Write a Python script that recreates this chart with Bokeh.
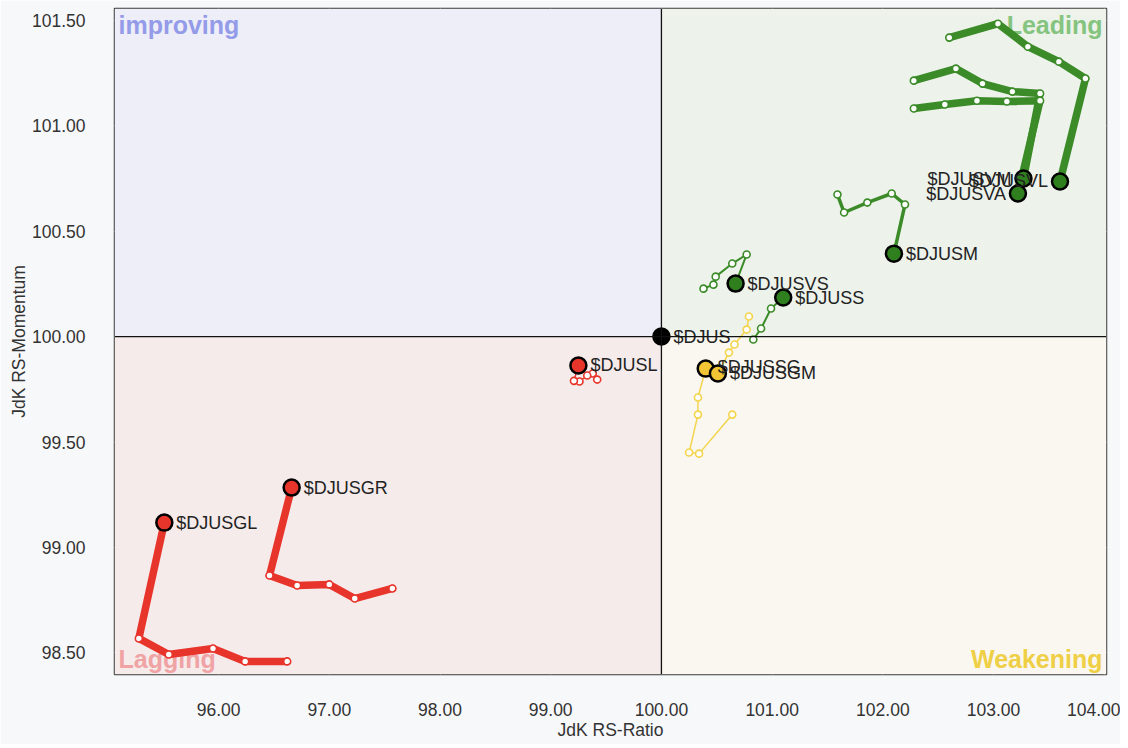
from bokeh.plotting import figure
from bokeh.models import BoxAnnotation, Span, FixedTicker, NumeralTickFormatter
from bokeh.core.properties import value
from bokeh.embed import file_html
from bokeh.resources import INLINE

# ---- data (JdK RS-Ratio, JdK RS-Momentum); tail oldest -> head last ----
DJUSVL_RATIO = [102.60, 103.04, 103.31, 103.59, 103.83, 103.60]
DJUSVL_MOM = [101.417, 101.483, 101.374, 101.303, 101.223, 100.735]
DJUSVM_RATIO = [102.28, 102.66, 102.90, 103.17, 103.42, 103.27]
DJUSVM_MOM = [101.213, 101.270, 101.199, 101.161, 101.152, 100.749]
DJUSVA_RATIO = [102.28, 102.56, 102.85, 103.12, 103.42, 103.22]
DJUSVA_MOM = [101.081, 101.100, 101.118, 101.114, 101.118, 100.678]
DJUSM_RATIO = [101.59, 101.65, 101.86, 102.08, 102.20, 102.10]
DJUSM_MOM = [100.673, 100.588, 100.635, 100.678, 100.626, 100.393]
DJUSVS_RATIO = [100.38, 100.47, 100.49, 100.64, 100.77, 100.67]
DJUSVS_MOM = [100.227, 100.246, 100.284, 100.346, 100.389, 100.251]
DJUSS_RATIO = [100.83, 100.90, 100.99, 101.10]
DJUSS_MOM = [99.986, 100.038, 100.133, 100.185]
DJUSSG_RATIO = [100.64, 100.34, 100.25, 100.33, 100.33, 100.40]
DJUSSG_MOM = [99.630, 99.445, 99.450, 99.630, 99.711, 99.848]
DJUSGM_RATIO = [100.79, 100.77, 100.66, 100.61, 100.51]
DJUSGM_MOM = [100.095, 100.033, 99.962, 99.924, 99.825]
DJUSL_RATIO = [99.42, 99.38, 99.33, 99.26, 99.21, 99.25]
DJUSL_MOM = [99.796, 99.825, 99.815, 99.787, 99.790, 99.863]
DJUSGR_RATIO = [97.57, 97.23, 97.00, 96.71, 96.46, 96.66]
DJUSGR_MOM = [98.806, 98.758, 98.825, 98.820, 98.867, 99.284]
DJUSGL_RATIO = [96.62, 96.24, 95.95, 95.55, 95.28, 95.51]
DJUSGL_MOM = [98.460, 98.460, 98.521, 98.493, 98.569, 99.118]
DJUS_RATIO = [100.00]
DJUS_MOM = [100.00]

X_TICKS = [96, 97, 98, 99, 100, 101, 102, 103, 104]
Y_TICKS = [98.5, 99.0, 99.5, 100.0, 100.5, 101.0, 101.5]
CENTER = 100.0
QUADRANTS = ["improving", "Leading", "Lagging", "Weakening"]

GREEN, GREEN_HEAD = "#3b8b28", "#2f7f1f"
RED, RED_HEAD = "#e8352b", "#e8352b"
YEL, YEL_HEAD = "#f4d44c", "#f1c534"

series = [
    ("$DJUSVL", DJUSVL_RATIO, DJUSVL_MOM, GREEN, GREEN_HEAD, 7.5, "left", 0),
    ("$DJUSVM", DJUSVM_RATIO, DJUSVM_MOM, GREEN, GREEN_HEAD, 7.5, "left", 0),
    ("$DJUSVA", DJUSVA_RATIO, DJUSVA_MOM, GREEN, GREEN_HEAD, 7.5, "left", 0),
    ("$DJUSM", DJUSM_RATIO, DJUSM_MOM, GREEN, GREEN_HEAD, 3.5, "right", 0),
    ("$DJUSVS", DJUSVS_RATIO, DJUSVS_MOM, GREEN, GREEN_HEAD, 2, "right", 0),
    ("$DJUSS", DJUSS_RATIO, DJUSS_MOM, GREEN, GREEN_HEAD, 2, "right", 0),
    ("$DJUSSG", DJUSSG_RATIO, DJUSSG_MOM, YEL, YEL_HEAD, 1.5, "right", -2),
    ("$DJUSGM", DJUSGM_RATIO, DJUSGM_MOM, YEL, YEL_HEAD, 1.5, "right", 0),
    ("$DJUSL", DJUSL_RATIO, DJUSL_MOM, RED, RED_HEAD, 1.5, "right", 0),
    ("$DJUSGR", DJUSGR_RATIO, DJUSGR_MOM, RED, RED_HEAD, 7.5, "right", 0),
    ("$DJUSGL", DJUSGL_RATIO, DJUSGL_MOM, RED, RED_HEAD, 7.5, "right", 0),
    ("$DJUS", DJUS_RATIO, DJUS_MOM, "#000000", "#000000", 1, "right", 0),
]

p = figure(width=1120, height=744, x_range=(95.06, 104.02), y_range=(98.398, 101.555),
           output_backend="svg", toolbar_location=None,
           min_border_left=114, min_border_right=14, min_border_top=8, min_border_bottom=70)
p.border_fill_color = "#f7f8fa"
p.background_fill_color = "#f7f8fa"
p.outline_line_color = "#3a3a3a"
p.outline_line_width = 1.5

# quadrant backgrounds
p.add_layout(BoxAnnotation(right=CENTER, bottom=CENTER, fill_color="#eeeef8", fill_alpha=1, line_alpha=0, level="underlay"))
p.add_layout(BoxAnnotation(left=CENTER, bottom=CENTER, fill_color="#edf2eb", fill_alpha=1, line_alpha=0, level="underlay"))
p.add_layout(BoxAnnotation(right=CENTER, top=CENTER, fill_color="#f6ebeb", fill_alpha=1, line_alpha=0, level="underlay"))
p.add_layout(BoxAnnotation(left=CENTER, top=CENTER, fill_color="#f9f7ef", fill_alpha=1, line_alpha=0, level="underlay"))

p.xgrid.grid_line_color = "#dedede"
p.ygrid.grid_line_color = "#dedede"
p.xgrid.level = "underlay"
p.ygrid.level = "underlay"

p.add_layout(Span(location=CENTER, dimension="height", line_color="#111111", line_width=1.3))
p.add_layout(Span(location=CENTER, dimension="width", line_color="#111111", line_width=1.3))

# axes
p.xaxis.ticker = FixedTicker(ticks=X_TICKS)
p.yaxis.ticker = FixedTicker(ticks=Y_TICKS)
p.xaxis.formatter = NumeralTickFormatter(format="0.00")
p.yaxis.formatter = NumeralTickFormatter(format="0.00")
for ax in (p.xaxis, p.yaxis):
    ax.axis_line_color = None
    ax.major_tick_line_color = None
    ax.minor_tick_line_color = None
    ax.major_label_text_font = "Liberation Sans"
    ax.major_label_text_font_size = "17.5px"
    ax.major_label_text_color = "#333333"
    ax.axis_label_text_font = "Liberation Sans"
    ax.axis_label_text_font_size = "17.5px"
    ax.axis_label_text_font_style = "normal"
    ax.axis_label_text_color = "#333333"
p.xaxis.axis_label = "JdK RS-Ratio"
p.yaxis.axis_label = "JdK RS-Momentum"
p.xaxis.major_label_standoff = 22
p.xaxis.axis_label_standoff = 1
p.yaxis.major_label_standoff = 23
p.yaxis.axis_label_standoff = 0

# quadrant labels
qfont = value("Liberation Sans")
xs, xe = p.x_range.start, p.x_range.end
ys, ye = p.y_range.start, p.y_range.end
p.text(x=[xs], y=[ye], text=[QUADRANTS[0]], text_font=qfont, text_font_size="25px", text_font_style="bold",
       text_color="#949be9", text_align="left", text_baseline="alphabetic", x_offset=4, y_offset=16)
p.text(x=[xe], y=[ye], text=[QUADRANTS[1]], text_font=qfont, text_font_size="25px", text_font_style="bold",
       text_color="#84c47f", text_align="right", text_baseline="alphabetic", x_offset=-4, y_offset=16)
p.text(x=[xs], y=[ys], text=[QUADRANTS[2]], text_font=qfont, text_font_size="25px", text_font_style="bold",
       text_color="#f0a3a5", text_align="left", text_baseline="alphabetic", x_offset=4, y_offset=-16)
p.text(x=[xe], y=[ys], text=[QUADRANTS[3]], text_font=qfont, text_font_size="25px", text_font_style="bold",
       text_color="#efcf45", text_align="right", text_baseline="alphabetic", x_offset=-4, y_offset=-16)

# tails
for name, rx, my, col, hcol, lw, side, dy in series:
    if len(rx) > 1:
        p.line(rx, my, line_color=col, line_width=lw, line_join="round", line_cap="round")
for name, rx, my, col, hcol, lw, side, dy in series:
    if len(rx) > 1:
        p.scatter(rx[:-1], my[:-1], size=7, fill_color="white", line_color=col, line_width=1.6)
# heads
for name, rx, my, col, hcol, lw, side, dy in series:
    p.scatter([rx[-1]], [my[-1]], size=16, fill_color=hcol, line_color="black", line_width=2.5)
# head labels
for name, rx, my, col, hcol, lw, side, dy in series:
    if side == "right":
        p.text(x=[rx[-1]], y=[my[-1]], text=[name], text_font=value("Liberation Sans"), text_font_size="18px",
               text_color="#222222", text_align="left", text_baseline="middle", x_offset=12, y_offset=dy)
    else:
        p.text(x=[rx[-1]], y=[my[-1]], text=[name], text_font=value("Liberation Sans"), text_font_size="18px",
               text_color="#222222", text_align="right", text_baseline="middle", x_offset=-12, y_offset=dy)

open("out.html", "w").write(file_html(p, INLINE))
